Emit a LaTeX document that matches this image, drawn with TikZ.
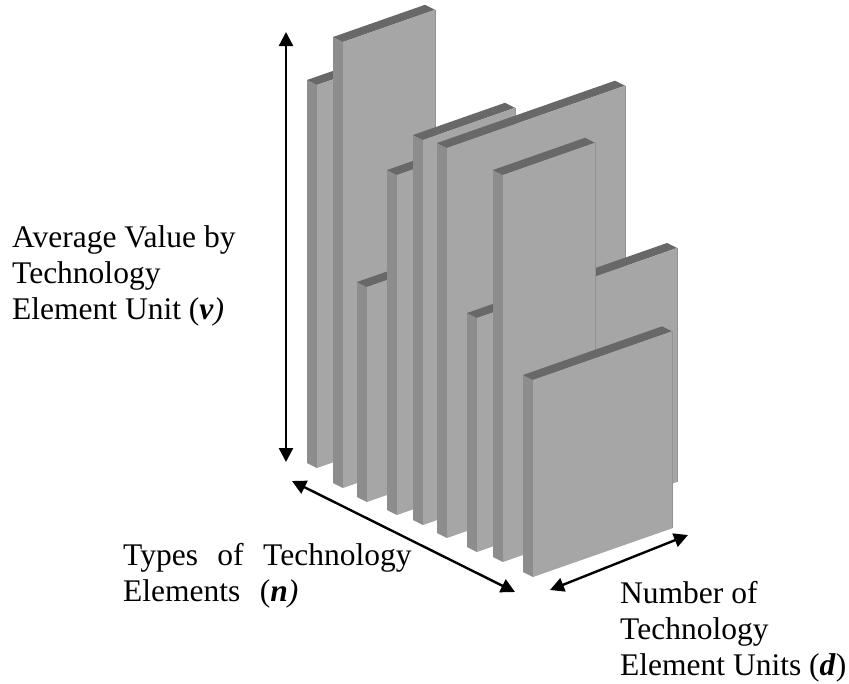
\documentclass[tikz,border=0pt]{standalone}
\usepackage{fontspec}
\setmainfont{Liberation Serif}
\usepackage{tikz}
\usetikzlibrary{arrows.meta,positioning}
\definecolor{ink}{RGB}{0,0,0}
\definecolor{faceF}{RGB}{166,166,166}
\definecolor{faceS}{RGB}{141,141,141}
\definecolor{faceT}{RGB}{104,104,104}
\definecolor{edgeR}{RGB}{146,146,146}
\tikzset{
  slabfront/.style={fill=faceF},
  slabside/.style={fill=faceS},
  slabtop/.style={fill=faceT},
  slabedge/.style={draw=edgeR,line width=0.8pt},
  lbl/.style={inner sep=0pt,anchor=base west,align=left,
    font=\fontsize{31.5}{36}\selectfont},
  axis/.style={{Triangle[length=14pt,width=14pt]}-{Triangle[length=14pt,width=14pt]},
    line width=2.4pt,ink},
}
% one slab: #1 left x, #2 top y, #3 bottom y, #4 depth (px, y down)
\newcommand{\slab}[4]{%
  \fill[slabside] (#1,#2) -- ++(10,5) -- (#1+10,#3+5) -- (#1,#3) -- cycle;
  \fill[slabtop] (#1,#2) -- ++(10,5) -- ++(#4,-0.35*#4) -- ++(-10,-5) -- cycle;
  \fill[slabfront] (#1+10,#2+5) -- ++(#4,-0.35*#4) -- ++(0,#3-#2) -- ++(-#4,0.35*#4) -- cycle;
  \draw[slabedge] (#1+10+#4,#2+5-0.35*#4) -- ++(0,#3-#2);
}
\newcommand{\wsp}{\hspace{19.5pt}}

\begin{document}
\begin{tikzpicture}[x=1pt,y=-1pt]
  \useasboundingbox (0,0) rectangle (849,683);
  \slab{307}{80}{463}{100}
  \slab{333}{37}{483}{92}
  \slab{357}{282}{497}{90}
  \slab{387}{170}{510}{80}
  \slab{413}{135}{520}{92}
  \slab{437}{143}{533}{178}
  \slab{467}{313}{547}{200}
  \slab{493}{170}{557}{92}
  \slab{523}{375}{572}{139}

  \coordinate (vtop) at (286,32);
  \coordinate (vbot) at (286,462);
  \coordinate (nback) at (292,481);
  \coordinate (nfront) at (515,592);
  \coordinate (dnear) at (550,590);
  \coordinate (dfar) at (688,535);
  \draw[axis] (vtop) -- (vbot);
  \draw[axis] (nback) -- (nfront);
  \draw[axis] (dnear) -- (dfar);

  % base anchor sits on the last line
  \node[lbl] (vlabel) at (12,319) {Average Value by\\Technology\\
    Element Unit (\textbf{\textit{v}}\textit{)}};
  \node[lbl] (nlabel) at (123,601) {Types\wsp of\wsp Technology\\
    Elements\wsp(\textbf{\textit{n}}\textit{)}};
  \node[lbl] (dlabel) at (620,675) {Number of\\Technology\\
    Element Units (\textbf{\textit{d}})};
\end{tikzpicture}
\end{document}
